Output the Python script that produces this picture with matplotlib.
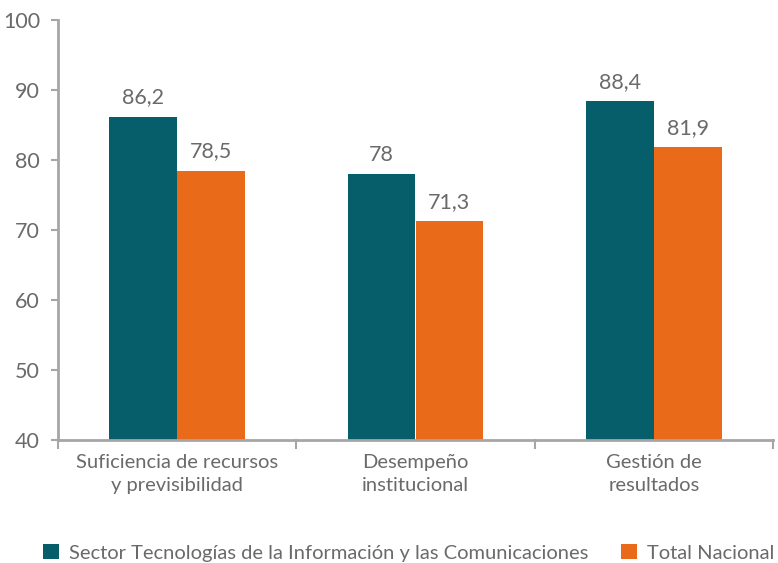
import matplotlib
matplotlib.use("Agg")
import matplotlib.pyplot as plt
import numpy as np

categories = ["Suficiencia de recursos\ny previsibilidad", "Desempeño\ninstitucional", "Gestión de\nresultados"]
series_names = ["Sector Tecnologías de la Información y las Comunicaciones", "Total Nacional"]
sector_vals = [86.2, 78.0, 88.4]
nacional_vals = [78.5, 71.3, 81.9]
value_labels_sector = ["86,2", "78", "88,4"]
value_labels_nacional = ["78,5", "71,3", "81,9"]
yticks = [40, 50, 60, 70, 80, 90, 100]

plt.rcParams['font.family'] = ['Lato', 'DejaVu Sans']
txt = '#6a6a6a'
spine = '#A6A6A6'
c1 = '#065E6B'
c2 = '#E96A19'

fig = plt.figure(figsize=(7.78, 5.63), dpi=100)
ax = fig.add_axes([58/778, 123/563, 715/778, 420/563])

x = np.arange(len(categories))
w = 0.285
b1 = ax.bar(x - w/2, np.array(sector_vals) - 40, w, bottom=40, color=c1, label=series_names[0])
b2 = ax.bar(x + w/2, np.array(nacional_vals) - 40, w, bottom=40, color=c2, label=series_names[1])

for xi, v, l in zip(x - w/2, sector_vals, value_labels_sector):
    ax.text(xi, v + 1.3, l, ha='center', va='bottom', fontsize=15.5, color=txt)
for xi, v, l in zip(x + w/2, nacional_vals, value_labels_nacional):
    ax.text(xi, v + 1.3, l, ha='center', va='bottom', fontsize=15.5, color=txt)

ax.set_xlim(-0.5, 2.5)
ax.set_ylim(40, 100)
ax.set_yticks(yticks)
ax.set_yticklabels([str(t) for t in yticks], fontsize=15.5, color=txt)
ax.set_xticks(x)
ax.set_xticklabels(categories, fontsize=14.5, color=txt, linespacing=1.45)
ax.tick_params(axis='x', length=0, pad=10)
ax.tick_params(axis='y', length=5, width=1.5, color=spine, pad=8)
for xb in [-0.5, 0.5, 1.5, 2.5]:
    ax.plot([xb, xb], [0, -0.02], transform=ax.get_xaxis_transform(), color=spine, lw=1.5, clip_on=False)

for s in ['top', 'right']:
    ax.spines[s].set_visible(False)
for s in ['left', 'bottom']:
    ax.spines[s].set_color(spine)
    ax.spines[s].set_linewidth(2)

leg = fig.legend(handles=[b1, b2], loc='lower center', bbox_to_anchor=(0.525, -0.03), ncol=2, frameon=False,
                 fontsize=14.5, handlelength=0.8, handleheight=0.8, handletextpad=0.5, columnspacing=1.6)
for t in leg.get_texts():
    t.set_color(txt)

fig.savefig('out.png', dpi=100)
